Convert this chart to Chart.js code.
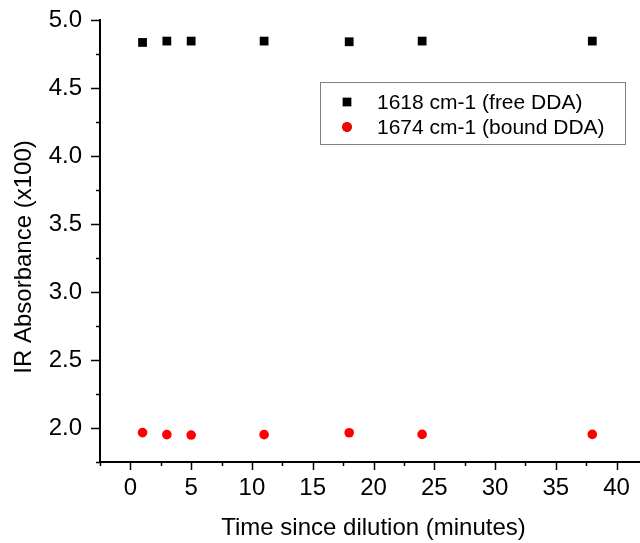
<!DOCTYPE html>
<html>
<head>
<meta charset="utf-8">
<script src="https://cdn.jsdelivr.net/npm/chart.js@4.4.0/dist/chart.umd.min.js"></script>
<style>
  html, body { margin: 0; padding: 0; background: #fff; overflow: hidden; }
  #wrap { width: 660px; height: 543px; }
</style>
</head>
<body>
<div id="wrap"><canvas id="absChart" width="660" height="543"></canvas></div>
<script>
// data
const times = [1, 3, 5, 11, 18, 24, 38];
const freeDDA = [4.835, 4.845, 4.845, 4.845, 4.84, 4.845, 4.845];
const boundDDA = [1.966, 1.951, 1.948, 1.951, 1.965, 1.953, 1.953];
const seriesLabels = ['1618 cm-1 (free DDA)', '1674 cm-1 (bound DDA)'];
const xTicks = [0, 5, 10, 15, 20, 25, 30, 35, 40];
const yTicks = [2.0, 2.5, 3.0, 3.5, 4.0, 4.5, 5.0];
const yTitle = 'IR Absorbance (x100)';

const FONT = 'Arial, "Liberation Sans", sans-serif';

// minor + major tick marks (outward), major on the label values
const tickMarks = {
  id: 'tickMarks',
  afterDraw(chart) {
    const ctx = chart.ctx;
    const xs = chart.scales.x, ys = chart.scales.y;
    const bottom = chart.chartArea.bottom, left = chart.chartArea.left;
    ctx.save();
    ctx.strokeStyle = '#000';
    ctx.lineWidth = 1.5;
    ctx.beginPath();
    for (let v = xs.min; v <= xs.max + 1e-9; v += 2.5) {
      const px = Math.round(xs.getPixelForValue(v)) + 0.5;
      const len = xTicks.includes(v) ? 8 : 4;
      ctx.moveTo(px, bottom);
      ctx.lineTo(px, bottom + len);
    }
    for (let v = ys.min; v <= ys.max + 1e-9; v += 0.25) {
      const py = Math.round(ys.getPixelForValue(v)) + 0.5;
      const major = yTicks.some(t => Math.abs(t - v) < 1e-6);
      ctx.moveTo(left, py);
      ctx.lineTo(left - (major ? 9 : 4), py);
    }
    ctx.stroke();

    // y title, sits a bit below the axis centre in the original
    ctx.translate(24, 257);
    ctx.rotate(-Math.PI / 2);
    ctx.font = '24px ' + FONT;
    ctx.fillStyle = '#000';
    ctx.textAlign = 'center';
    ctx.textBaseline = 'middle';
    ctx.fillText(yTitle, 0, 0);
    ctx.restore();
  }
};

// boxed legend inside the plot
const boxLegend = {
  id: 'boxLegend',
  afterDraw(chart) {
    const ctx = chart.ctx;
    const x0 = 320, y0 = 82, w = 305, h = 62;
    ctx.save();
    ctx.fillStyle = '#fff';
    ctx.fillRect(x0, y0, w, h);
    ctx.strokeStyle = '#808080';
    ctx.lineWidth = 1;
    ctx.strokeRect(x0 + 0.5, y0 + 0.5, w, h);
    ctx.font = '21px ' + FONT;
    ctx.textBaseline = 'middle';
    chart.data.datasets.forEach((ds, i) => {
      const cy = y0 + 20 + i * 25;
      Chart.helpers.drawPoint(ctx, {
        pointStyle: ds.pointStyle,
        radius: ds.pointRadius,
        borderWidth: 0
      }, 347, cy);
      ctx.fillStyle = ds.backgroundColor;
      ctx.fill();
      ctx.fillStyle = '#000';
      ctx.fillText(ds.label, 377, cy + 1);
    });
    ctx.restore();
  }
};

const ctx = document.getElementById('absChart').getContext('2d');
new Chart(ctx, {
  type: 'scatter',
  data: {
    datasets: [
      {
        label: seriesLabels[0],
        data: times.map((t, i) => ({ x: t, y: freeDDA[i] })),
        pointStyle: 'rect',
        pointRadius: 6.2,
        backgroundColor: '#000',
        borderWidth: 0
      },
      {
        label: seriesLabels[1],
        data: times.map((t, i) => ({ x: t, y: boundDDA[i] })),
        pointStyle: 'circle',
        pointRadius: 4.8,
        backgroundColor: '#ff0000',
        borderWidth: 0
      }
    ]
  },
  options: {
    responsive: false,
    animation: false,
    layout: { padding: { top: 20, right: 13, left: 0, bottom: 0 } },
    plugins: {
      legend: { display: false },
      tooltip: { enabled: false }
    },
    scales: {
      x: {
        type: 'linear',
        min: -2.5,
        max: 42.5,
        afterFit: s => { s.height = 81; s.paddingLeft = 0; s.paddingRight = 0; },
        afterBuildTicks: s => { s.ticks = xTicks.map(v => ({ value: v })); },
        grid: { display: false, drawTicks: false },
        border: { display: true, color: '#000', width: 2 },
        ticks: {
          padding: 12,
          color: '#000',
          font: { family: FONT, size: 24 },
          maxRotation: 0,
          autoSkip: false
        },
        title: {
          display: true,
          text: 'Time since dilution (minutes)',
          color: '#000',
          font: { family: FONT, size: 24 },
          padding: { top: 0, bottom: 0 }
        }
      },
      y: {
        min: 1.75,
        max: 5.0,
        afterFit: s => { s.width = 100; s.paddingTop = 0; s.paddingBottom = 0; },
        afterBuildTicks: s => { s.ticks = yTicks.map(v => ({ value: v })); },
        grid: { display: false, drawTicks: false },
        border: { display: true, color: '#000', width: 2 },
        ticks: {
          padding: 18,
          color: '#000',
          font: { family: FONT, size: 24 },
          callback: v => Number(v).toFixed(1)
        },
        title: { display: false }
      }
    }
  },
  plugins: [tickMarks, boxLegend]
});
</script>
</body>
</html>
